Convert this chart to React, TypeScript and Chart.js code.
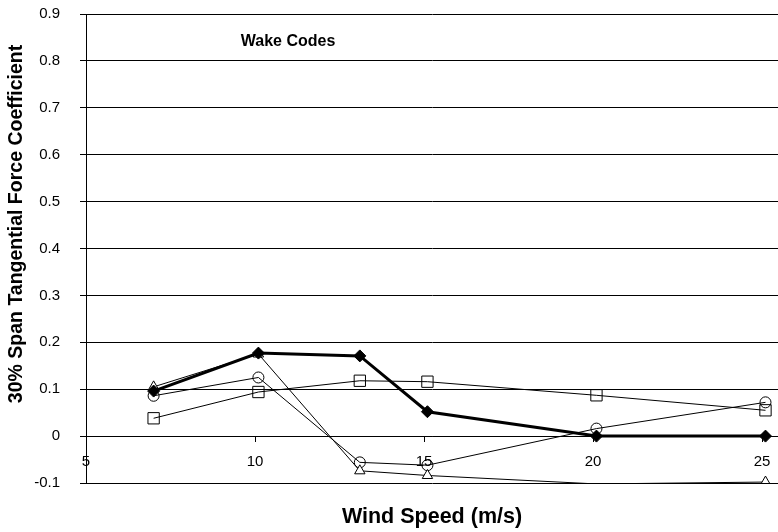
import React, { useEffect, useRef } from 'react';
import { Chart, registerables } from 'chart.js';

Chart.register(...registerables);

// ---- Data ----
const windSpeed = [7, 10.1, 13.1, 15.1, 20.1, 25.1];
const seriesDiamond = [0.096, 0.177, 0.171, 0.052, 0.0, 0.0];
const seriesSquare = [0.038, 0.094, 0.118, 0.116, 0.087, 0.055];
const seriesCircle = [0.086, 0.125, -0.056, -0.062, 0.016, 0.072];
const seriesTriangle = [0.105, 0.175, -0.074, -0.084, -0.102, -0.098];

const xTicks = [5, 10, 15, 20, 25];
const yTicks = [-0.1, 0, 0.1, 0.2, 0.3, 0.4, 0.5, 0.6, 0.7, 0.8, 0.9];
const yTickLabels = ['-0.1', '0', '0.1', '0.2', '0.3', '0.4', '0.5', '0.6', '0.7', '0.8', '0.9'];

const chartTitle = 'Wake Codes';
const xTitle = 'Wind Speed (m/s)';
const yTitle = '30% Span Tangential Force Coefficient';

const FONT = '"Liberation Sans", Arial, sans-serif';
const Y_MIN = -0.1;
const Y_MAX = 0.9;
const X_MIN = 5;
const X_MAX = 25.47;

const titlesPlugin = {
  id: 'customTitles',
  afterDraw(chart: any) {
    const ctx = chart.ctx as CanvasRenderingContext2D;
    const area = chart.chartArea;
    ctx.save();
    ctx.fillStyle = '#000';
    ctx.textAlign = 'center';
    ctx.textBaseline = 'middle';
    ctx.font = `bold 16px ${FONT}`;
    ctx.fillText(chartTitle, area.left + 202, area.top + 28);
    ctx.translate(17, 224);
    ctx.rotate(-Math.PI / 2);
    ctx.font = `bold 19.5px ${FONT}`;
    ctx.fillText(yTitle, 0, 0);
    ctx.restore();
  },
};

const noPad = (s: any) => {
  s.paddingLeft = 0;
  s.paddingRight = 0;
  s.paddingTop = 0;
  s.paddingBottom = 0;
};

export default function App() {
  const ref = useRef<HTMLCanvasElement>(null);

  useEffect(() => {
    document.body.style.margin = '0';
    const mk = (ys: number[]) => windSpeed.map((x, i) => ({ x, y: ys[i] }));
    const common = {
      xAxisID: 'x',
      yAxisID: 'y',
      borderColor: '#000',
      pointBorderColor: '#000',
      pointBorderWidth: 1,
      borderWidth: 1,
      tension: 0,
      fill: false,
    };
    const chart = new Chart(ref.current!, {
      type: 'line',
      data: {
        datasets: [
          {
            ...common,
            label: 'Diamond',
            data: mk(seriesDiamond),
            borderWidth: 3,
            pointStyle: 'rectRot',
            pointRadius: 6,
            pointBackgroundColor: '#000',
            backgroundColor: '#000',
          },
          {
            ...common,
            label: 'Triangle',
            data: mk(seriesTriangle),
            pointStyle: 'triangle',
            pointRadius: (c: any) => (c.parsed && c.parsed.y < Y_MIN ? 0 : 6),
            pointBackgroundColor: '#fff',
            backgroundColor: '#fff',
          },
          {
            ...common,
            label: 'Circle',
            data: mk(seriesCircle),
            pointStyle: 'circle',
            pointRadius: 5.5,
            pointBackgroundColor: 'rgba(255,255,255,0)',
            backgroundColor: '#fff',
          },
          {
            ...common,
            label: 'Square',
            data: mk(seriesSquare),
            pointStyle: 'rect',
            pointRadius: 8,
            pointBackgroundColor: 'rgba(255,255,255,0)',
            backgroundColor: '#fff',
          },
        ],
      },
      options: {
        animation: false,
        responsive: false,
        maintainAspectRatio: false,
        layout: { autoPadding: false, padding: { top: 14, right: 0, left: 0, bottom: 0 } },
        plugins: {
          legend: { display: false },
          tooltip: { enabled: false },
          title: { display: false },
        },
        scales: {
          x: {
            type: 'linear',
            min: X_MIN,
            max: X_MAX,
            position: { y: 0 } as any,
            afterBuildTicks: (s: any) => {
              s.ticks = xTicks.map((v) => ({ value: v }));
            },
            afterFit: noPad,
            ticks: {
              autoSkip: false,
              maxRotation: 0,
              color: '#000',
              font: { size: 15, family: FONT },
              padding: 12,
            },
            grid: { drawOnChartArea: false, drawTicks: true, tickLength: 5, color: '#000' },
            border: { display: true, color: '#000' },
          },
          xt: {
            type: 'linear',
            position: 'bottom',
            ticks: { display: false },
            grid: { display: false },
            border: { display: false },
            title: {
              display: true,
              text: xTitle,
              color: '#000',
              font: { size: 21.5, weight: 'bold', family: FONT },
              padding: { top: 0, bottom: 2 },
            },
            afterFit: (s: any) => {
              noPad(s);
              s.height = 49;
            },
          },
          y: {
            type: 'linear',
            min: Y_MIN,
            max: Y_MAX,
            afterBuildTicks: (s: any) => {
              s.ticks = yTicks.map((v) => ({ value: v }));
            },
            ticks: {
              color: '#000',
              font: { size: 15, family: FONT },
              padding: 20,
              callback: (_v: any, i: number) => yTickLabels[i],
            },
            grid: { color: '#000', tickLength: 6, drawTicks: true },
            border: { display: true, color: '#000' },
            afterFit: (s: any) => {
              noPad(s);
              s.width = 86;
            },
          },
        },
      } as any,
      plugins: [titlesPlugin],
    });
    return () => chart.destroy();
  }, []);

  return <canvas ref={ref} width={778} height={532} style={{ display: 'block' }} />;
}
